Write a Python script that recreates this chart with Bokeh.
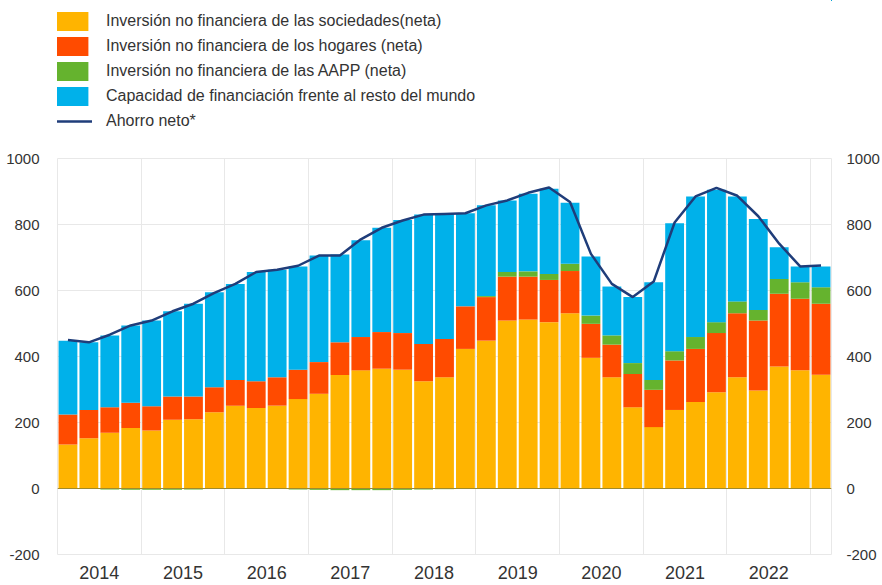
from bokeh.plotting import figure
from bokeh.layouts import column
from bokeh.models import (ColumnDataSource, FixedTicker, LinearAxis, Legend,
                          LegendItem, Span, Range1d)
from bokeh.embed import file_html
from bokeh.resources import INLINE

# ---------------- data ----------------
quarters = ["2014Q1", "2014Q2", "2014Q3", "2014Q4",
            "2015Q1", "2015Q2", "2015Q3", "2015Q4",
            "2016Q1", "2016Q2", "2016Q3", "2016Q4",
            "2017Q1", "2017Q2", "2017Q3", "2017Q4",
            "2018Q1", "2018Q2", "2018Q3", "2018Q4",
            "2019Q1", "2019Q2", "2019Q3", "2019Q4",
            "2020Q1", "2020Q2", "2020Q3", "2020Q4",
            "2021Q1", "2021Q2", "2021Q3", "2021Q4",
            "2022Q1", "2022Q2", "2022Q3", "2022Q4",
            "2023Q1"]

year_labels = ["2014", "2015", "2016", "2017", "2018",
               "2019", "2020", "2021", "2022"]

sociedades = [133, 152, 169, 183, 176, 208, 210, 231, 251, 244, 251, 271,
              287, 344, 358, 363, 360, 325, 337, 423, 448, 509, 512, 504,
              531, 396, 337, 246, 186, 238, 262, 292, 337, 297, 370, 358, 345]

hogares = [91, 86, 77, 77, 73, 71, 69, 76, 78, 81, 86, 89,
           96, 99, 101, 111, 111, 113, 116, 129, 132, 133, 130, 128,
           128, 103, 99, 101, 113, 150, 161, 179, 194, 212, 220, 217, 215]

aapp = [0, 0, -3, -4, -4, -4, -3, 0, 0, 0, 0, -3,
        -4, -5, -5, -5, -4, -3, -2, 0, 3, 14, 16, 18,
        22, 25, 28, 33, 30, 28, 36, 33, 36, 32, 45, 50, 50]

capacidad = [224, 205, 218, 234, 260, 258, 281, 288, 291, 331, 326, 313,
             323, 266, 293, 316, 343, 392, 379, 282, 275, 217, 235, 258,
             185, 179, 148, 200, 296, 388, 426, 401, 318, 276, 96, 48, 63]

ahorro = [450, 443, 466, 494, 509, 537, 560, 593, 620, 656, 663, 675,
          706, 706, 755, 790, 812, 830, 832, 834, 858, 873, 896, 912,
          868, 711, 620, 580, 627, 806, 885, 911, 887, 825, 742, 673, 676]

names = ["Inversión no financiera de las sociedades(neta)",
         "Inversión no financiera de los hogares (neta)",
         "Inversión no financiera de las AAPP (neta)",
         "Capacidad de financiación frente al resto del mundo",
         "Ahorro neto*"]

colors = ["#FFB400", "#FF4B00", "#65B32E", "#00B1EA"]
line_color = "#1F3D7A"

# ---------------- stacking ----------------
x = list(range(len(quarters)))
s_top = list(sociedades)
h_bot = s_top
h_top = [a + b for a, b in zip(h_bot, hogares)]
g_bot = [ht if g >= 0 else g for ht, g in zip(h_top, aapp)]
g_top = [ht + g if g >= 0 else 0 for ht, g in zip(h_top, aapp)]
pos_top = [ht + max(g, 0) for ht, g in zip(h_top, aapp)]
c_top = [pt + c for pt, c in zip(pos_top, capacidad)]

src = ColumnDataSource(dict(x=x, zero=[0] * len(x), s_top=s_top,
                            h_bot=h_bot, h_top=h_top, g_bot=g_bot,
                            g_top=g_top, c_bot=pos_top, c_top=c_top,
                            ahorro=ahorro))

FONT = "Liberation Sans"
TXT = "#333333"
GRID = "#e8e8e8"
W_PX = 882
LEG_H = 140
W = 0.9


def draw_series(fig):
    rs = [
        fig.vbar(x="x", bottom="zero", top="s_top", width=W, source=src,
                 fill_color=colors[0], line_color=None),
        fig.vbar(x="x", bottom="h_bot", top="h_top", width=W, source=src,
                 fill_color=colors[1], line_color=None),
        fig.vbar(x="x", bottom="g_bot", top="g_top", width=W, source=src,
                 fill_color=colors[2], line_color=None),
        fig.vbar(x="x", bottom="c_bot", top="c_top", width=W, source=src,
                 fill_color=colors[3], line_color=None),
        fig.line(x="x", y="ahorro", source=src, line_color=line_color,
                 line_width=2.5),
    ]
    return rs


# ---------------- main chart ----------------
p = figure(width=W_PX, height=585 - LEG_H, output_backend="svg",
           toolbar_location=None, tools="",
           x_range=Range1d(-0.5, len(x) - 0.5), y_range=Range1d(-200, 1000),
           min_border_left=57, min_border_right=46,
           min_border_top=18, min_border_bottom=31)
p.background_fill_color = "white"
p.border_fill_color = "white"
p.outline_line_color = GRID

draw_series(p)

p.add_layout(Span(location=0, dimension="width", line_color="#a08a2c",
                  line_width=1))

yticks = [-200, 0, 200, 400, 600, 800, 1000]
ylabels = {t: str(t) for t in yticks}
year_pos = []
for yl in year_labels:
    idx = [i for i, q in enumerate(quarters) if q.startswith(yl)]
    year_pos.append(sum(idx) / len(idx))
year_starts = [i - 0.5 for i, q in enumerate(quarters) if q.endswith("Q1")]

p.xaxis.ticker = FixedTicker(ticks=year_pos)
p.xaxis.major_label_overrides = {pos: lab for pos, lab in zip(year_pos, year_labels)}
p.xaxis.axis_line_color = None
p.xaxis.major_tick_line_color = None
p.xaxis.minor_tick_line_color = None
p.xaxis.major_label_standoff = 5
p.xaxis.major_label_text_font = FONT
p.xaxis.major_label_text_font_size = "18px"
p.xaxis.major_label_text_color = TXT

p.yaxis.ticker = FixedTicker(ticks=yticks)
p.yaxis.major_label_overrides = ylabels
p.yaxis.axis_line_color = None
p.yaxis.major_tick_line_color = None
p.yaxis.minor_tick_line_color = None
p.yaxis.major_label_standoff = 12
p.yaxis.major_label_text_font = FONT
p.yaxis.major_label_text_font_size = "15px"
p.yaxis.major_label_text_color = TXT

right = LinearAxis(ticker=FixedTicker(ticks=yticks), axis_line_color=None,
                   major_label_overrides=ylabels,
                   major_tick_line_color=None, minor_tick_line_color=None,
                   major_label_standoff=9, major_label_text_font=FONT,
                   major_label_text_font_size="15px",
                   major_label_text_color=TXT)
p.add_layout(right, "right")

p.xgrid.ticker = FixedTicker(ticks=year_starts)
p.xgrid.grid_line_color = GRID
p.ygrid.ticker = FixedTicker(ticks=yticks)
p.ygrid.grid_line_color = GRID

# ---------------- legend panel ----------------
# Same series, with ranges that keep them out of view: only the legend shows.
lf = figure(width=W_PX, height=LEG_H, output_backend="svg",
            toolbar_location=None, tools="", x_axis_type=None,
            y_axis_type=None, x_range=Range1d(-100, -99),
            y_range=Range1d(-100, -99), min_border=0)
lf.outline_line_color = None
lf.grid.visible = False
lf.background_fill_color = "white"
lf.border_fill_color = "white"

leg_r = draw_series(lf)

legend = Legend(items=[LegendItem(label=n, renderers=[r], index=0)
                       for n, r in zip(names, leg_r)],
                location=(-6, 7), orientation="vertical",
                glyph_width=41, glyph_height=24, label_height=24,
                spacing=1, label_standoff=14, padding=0, margin=0,
                border_line_color=None, background_fill_alpha=0,
                label_text_font=FONT, label_text_font_size="16px",
                label_text_color=TXT)
lf.add_layout(legend)

layout = column(lf, p, spacing=0)
open("out.html", "w").write(file_html(layout, INLINE))
